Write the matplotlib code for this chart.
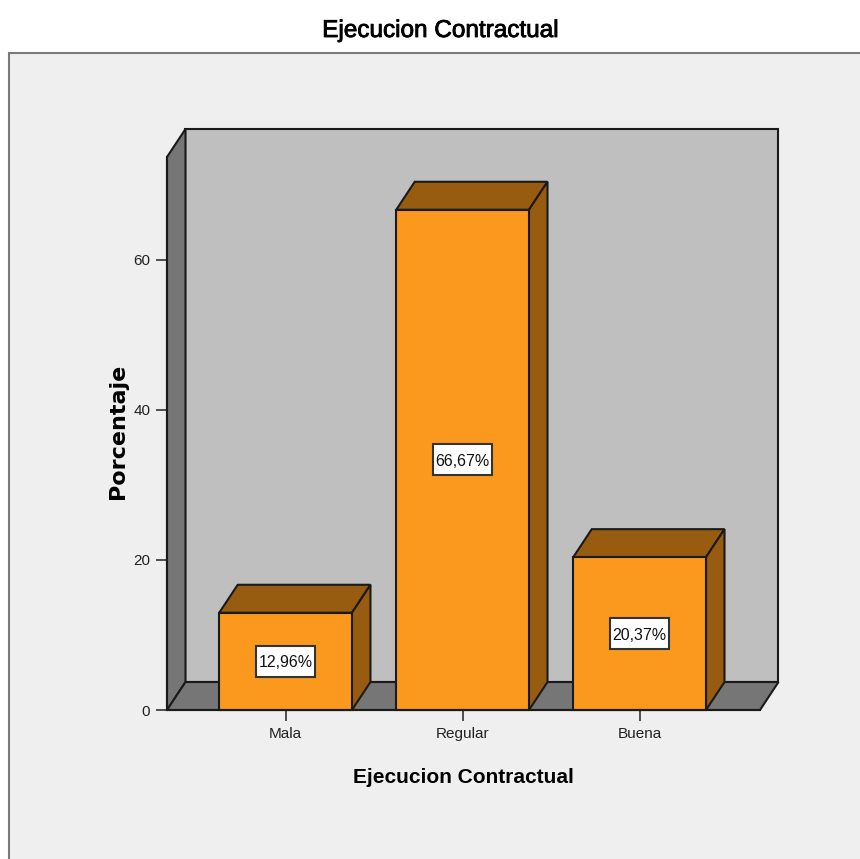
import matplotlib
matplotlib.use("Agg")
import matplotlib.pyplot as plt
import matplotlib.patheffects as pe
from matplotlib.patches import Polygon, Rectangle

categorias = ["Mala", "Regular", "Buena"]
porcentajes = [12.96, 66.67, 20.37]
etiquetas = ["12,96%", "66,67%", "20,37%"]
y_ticks = [0, 20, 40, 60]

plt.rcParams['font.family'] = ['Liberation Sans', 'DejaVu Sans']

W, H = 860, 859
fig = plt.figure(figsize=(W / 100, H / 100), dpi=100, facecolor="white")

# panel gris de fondo
fig.patches.append(Rectangle((9 / W, -0.01), 1.0, 1 - 53 / H + 0.01, transform=fig.transFigure,
                             facecolor="#EFEFEF", edgecolor="#7A7A7A", linewidth=1.5, zorder=-1))

ax = fig.add_axes([167 / W, 1 - 710 / H, (760 - 167) / W, (710 - 157) / H])
ax.set_facecolor("none")
ax.set_xlim(-0.67, 2.68)
ax.set_ylim(0, 73.7)

# profundidad del 3D en unidades de datos
dx = 0.1045
dy = 3.73
x0, x1 = ax.get_xlim()
top = ax.get_ylim()[1]

oscuro = "#985C10"
naranja = "#FB981E"
gris = "#767676"
linea = "#1A1A1A"

# pared, lado y piso
ax.add_patch(Polygon([(x0 + dx, dy), (x1 + dx, dy), (x1 + dx, top + dy), (x0 + dx, top + dy)],
                     facecolor="#BFBFBF", edgecolor=linea, lw=1.5, clip_on=False, zorder=1))
ax.add_patch(Polygon([(x0, 0), (x0 + dx, dy), (x0 + dx, top + dy), (x0, top)],
                     facecolor=gris, edgecolor=linea, lw=1.5, clip_on=False, zorder=1))
ax.add_patch(Polygon([(x0, 0), (x1, 0), (x1 + dx, dy), (x0 + dx, dy)],
                     facecolor=gris, edgecolor=linea, lw=1.5, clip_on=False, zorder=1))

ancho = 0.75
caja_w = 0.33
caja_h = 4.1
for i, v in enumerate(porcentajes):
    izq = i - ancho / 2
    der = i + ancho / 2
    ax.add_patch(Polygon([(izq, v), (der, v), (der + dx, v + dy), (izq + dx, v + dy)],
                         facecolor=oscuro, edgecolor=linea, lw=1.5, clip_on=False, zorder=2))
    ax.add_patch(Polygon([(der, 0), (der + dx, dy), (der + dx, v + dy), (der, v)],
                         facecolor=oscuro, edgecolor=linea, lw=1.5, clip_on=False, zorder=2))
    ax.add_patch(Rectangle((izq, 0), ancho, v, facecolor=naranja, edgecolor=linea, lw=1.5,
                           clip_on=False, zorder=3))
    # caja de la etiqueta, mas alta que el texto como en el original
    ax.add_patch(Rectangle((i - caja_w / 2, v / 2 - caja_h / 2), caja_w, caja_h, facecolor="white",
                           edgecolor="#333333", lw=1.5, zorder=5))
    ax.text(i, v / 2, etiquetas[i], ha="center", va="center_baseline", fontsize=11.5, color="#111111", zorder=6)

for lado in ["top", "right"]:
    ax.spines[lado].set_visible(False)
for lado in ["left", "bottom"]:
    ax.spines[lado].set_linewidth(1.5)
    ax.spines[lado].set_color(linea)
    ax.spines[lado].set_zorder(4)

ax.set_xticks(range(len(categorias)), categorias)
ax.set_yticks(y_ticks)
ax.tick_params(axis="both", length=8, width=1.2, color="#333333", labelsize=11, labelcolor="#222222", pad=4)

ax.set_xlabel("Ejecucion Contractual", fontsize=15, fontweight="bold", labelpad=19.5,
              x=(463 - 167) / (760 - 167))
ax.set_ylabel("Porcentaje", fontsize=16, fontweight="bold", labelpad=3.5,
              family=['DejaVu Sans'], y=(710 - 431) / (710 - 157))

fig.text(440 / W, 1 - 31 / H, "Ejecucion Contractual", ha="center", va="center", fontsize=17.5, color="black",
         path_effects=[pe.withStroke(linewidth=0.6, foreground="black")])

fig.savefig("out.png", dpi=100)
